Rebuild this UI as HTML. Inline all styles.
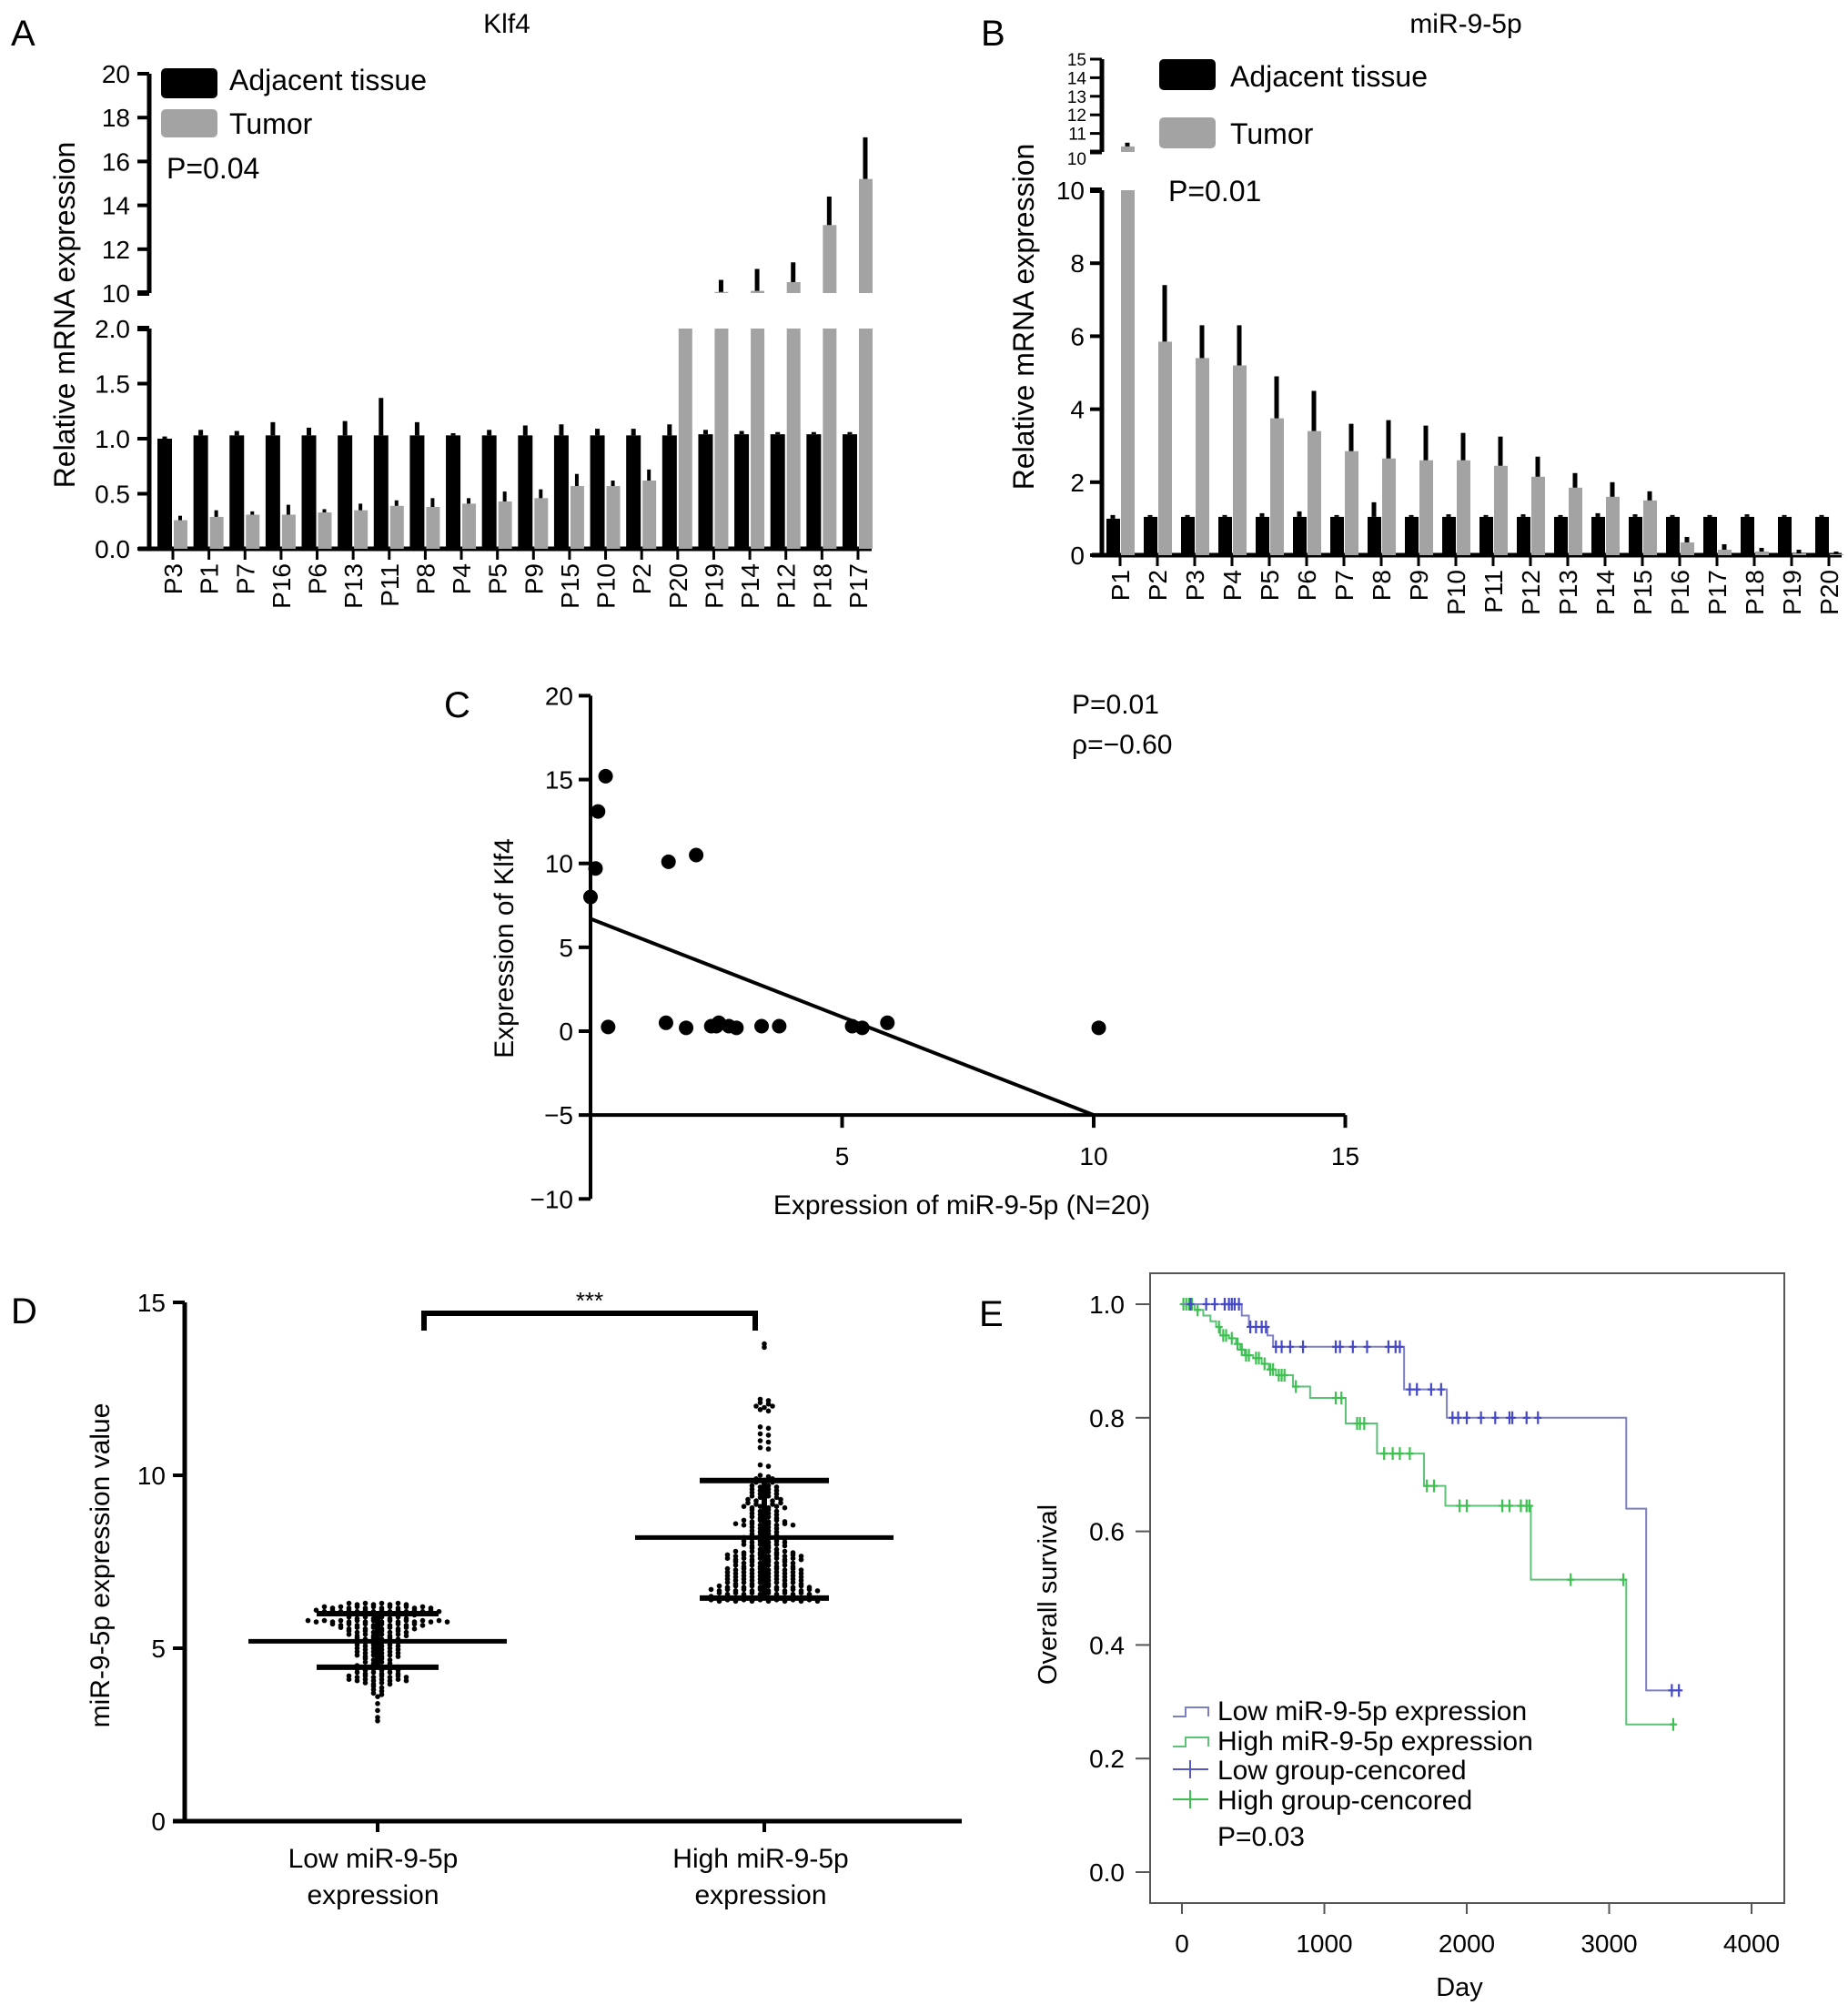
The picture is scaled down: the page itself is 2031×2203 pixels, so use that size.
<!DOCTYPE html>
<html><head><meta charset="utf-8"><style>
html,body{margin:0;padding:0;background:#fff}
svg{display:block;font-family:"Liberation Sans",Arial,sans-serif}
</style></head><body>
<svg id="fig" width="2031" height="2203" viewBox="0 0 2031 2203" xmlns="http://www.w3.org/2000/svg">
<rect width="2031" height="2203" fill="#fff"/>
<g id="pa">
<text x="12" y="50" font-size="40">A</text>
<text x="557" y="36" font-size="30" text-anchor="middle">Klf4</text>
<text transform="translate(82,346) rotate(-90)" font-size="32" text-anchor="middle">Relative mRNA expression</text>
<rect x="177" y="75" width="62" height="33" rx="5" fill="#000"/>
<text x="252" y="99" font-size="32">Adjacent tissue</text>
<rect x="177" y="120" width="62" height="31" rx="5" fill="#a3a3a3"/>
<text x="252" y="147" font-size="32">Tumor</text>
<text x="183" y="196" font-size="32">P=0.04</text>
</g>
<g id="pb">
<text x="1078" y="50" font-size="40">B</text>
<text x="1611" y="36" font-size="30" text-anchor="middle">miR-9-5p</text>
<text transform="translate(1136,348) rotate(-90)" font-size="32" text-anchor="middle">Relative mRNA expression</text>
<rect x="1274" y="65" width="62" height="34" rx="5" fill="#000"/>
<text x="1352" y="95" font-size="32">Adjacent tissue</text>
<rect x="1274" y="129" width="62" height="34" rx="5" fill="#a3a3a3"/>
<text x="1352" y="158" font-size="32">Tumor</text>
<text x="1284" y="221" font-size="32">P=0.01</text>
</g>
<g id="pc">
<text x="488" y="788" font-size="40">C</text>
<text x="1178" y="784" font-size="30">P=0.01</text>
<text x="1178" y="828" font-size="30">ρ=−0.60</text>
<text x="1057" y="1334" font-size="30" text-anchor="middle">Expression of miR-9-5p (N=20)</text>
<text transform="translate(564,1042) rotate(-90)" font-size="30" text-anchor="middle">Expression of Klf4</text>
</g>
<g id="pd">
<text x="12" y="1454" font-size="40">D</text>
<text transform="translate(120,1720) rotate(-90)" font-size="30" text-anchor="middle">miR-9-5p expression value</text>
<text x="410" y="2052" font-size="30" text-anchor="middle">Low miR-9-5p</text>
<text x="410" y="2092" font-size="30" text-anchor="middle">expression</text>
<text x="836" y="2052" font-size="30" text-anchor="middle">High miR-9-5p</text>
<text x="836" y="2092" font-size="30" text-anchor="middle">expression</text>
<path d="M466,1462 V1443 H830 V1462" fill="none" stroke="#000" stroke-width="6"/>
<text x="648" y="1438" font-size="26" text-anchor="middle">***</text>
</g>
<g id="pe">
<text x="1076" y="1457" font-size="40">E</text>
<rect x="1264" y="1399" width="697" height="692" fill="none" stroke="#555" stroke-width="2"/>
<text transform="translate(1161,1752) rotate(-90)" font-size="29" text-anchor="middle">Overall survival</text>
<text x="1604" y="2193" font-size="29" text-anchor="middle">Day</text>
<path d="M1289,1886 H1303 V1876 H1328 V1886" fill="none" stroke="#7d7fc6" stroke-width="2"/>
<text x="1338" y="1890" font-size="30">Low miR-9-5p expression</text>
<path d="M1289,1919 H1303 V1909 H1328 V1919" fill="none" stroke="#5cc277" stroke-width="2"/>
<text x="1338" y="1923" font-size="30">High miR-9-5p expression</text>
<path d="M1289,1944 H1328 M1308,1934 V1954" fill="none" stroke="#5458c8" stroke-width="2"/>
<text x="1338" y="1955" font-size="30">Low group-cencored</text>
<path d="M1289,1977 H1328 M1308,1967 V1987" fill="none" stroke="#3cc050" stroke-width="2"/>
<text x="1338" y="1988" font-size="30">High group-cencored</text>
<text x="1338" y="2028" font-size="30">P=0.03</text>
</g>
</svg>
<script>
// ---------- Panel A data ----------
const catsA = ['P3','P1','P7','P16','P6','P13','P11','P8','P4','P5','P9','P15','P10','P2','P20','P19','P14','P12','P18','P17'];
const adjA = [1.0,1.03,1.03,1.03,1.03,1.03,1.03,1.03,1.03,1.03,1.03,1.03,1.03,1.03,1.03,1.04,1.04,1.04,1.04,1.04];
const adjErrA = [1.02,1.08,1.07,1.15,1.1,1.16,1.37,1.15,1.05,1.08,1.12,1.13,1.09,1.09,1.13,1.08,1.07,1.06,1.06,1.06];
const tumA = [0.26,0.29,0.31,0.31,0.33,0.35,0.39,0.38,0.41,0.43,0.46,0.57,0.57,0.62,5,10.05,10.1,10.5,13.1,15.2];
const tumErrA = [0.3,0.35,0.34,0.4,0.36,0.41,0.44,0.46,0.46,0.52,0.54,0.68,0.62,0.72,5.5,10.6,11.1,11.4,14.4,17.1];
const ticksALow = ['0.0','0.5','1.0','1.5','2.0'];
const ticksAHigh = ['10','12','14','16','18','20'];
// ---------- Panel B data ----------
const catsB = ['P1','P2','P3','P4','P5','P6','P7','P8','P9','P10','P11','P12','P13','P14','P15','P16','P17','P18','P19','P20'];
const adjB = [1.0,1.05,1.05,1.05,1.05,1.05,1.05,1.05,1.05,1.05,1.05,1.05,1.05,1.05,1.05,1.05,1.05,1.05,1.05,1.05];
const adjErrB = [1.1,1.1,1.1,1.1,1.15,1.2,1.1,1.45,1.1,1.12,1.1,1.12,1.1,1.15,1.12,1.1,1.1,1.12,1.1,1.1];
const tumB = [10.3,5.85,5.4,5.2,3.75,3.4,2.85,2.65,2.6,2.6,2.45,2.15,1.85,1.6,1.5,0.35,0.15,0.1,0.05,0.03];
const tumErrB = [10.5,7.4,6.3,6.3,4.9,4.5,3.6,3.7,3.55,3.35,3.25,2.7,2.25,2.0,1.75,0.5,0.3,0.2,0.15,0.1];
const ticksBLow = ['0','2','4','6','8','10'];
const ticksBHigh = ['10','11','12','13','14','15'];
// ---------- Panel C data ----------
const mirC = [0.3,0.15,0.1,0.0,0.35,1.5,1.9,2.4,2.55,2.75,2.9,3.4,3.75,1.55,2.1,5.2,5.4,5.9,10.1,2.5];
const klfC = [15.2,13.1,9.7,8.0,0.25,0.5,0.2,0.3,0.5,0.3,0.2,0.3,0.3,10.1,10.5,0.3,0.2,0.5,0.2,0.3];
const fitC = [6.7,-1.17];
const ticksCY = [20,15,10,5,0,-5,-10];
const ticksCX = [5,10,15];
// ---------- Panel D data (value levels and dot counts) ----------
const lowVals = [6.3,6.2,6.1,6.0,5.9,5.8,5.7,5.6,5.5,5.4,5.3,5.2,5.1,5.0,4.9,4.8,4.7,4.6,4.5,4.4,4.3,4.2,4.1,4.0,3.9,3.8,3.7,3.6,3.4,3.2,3.0,2.9];
const lowCounts = [8,14,16,10,8,18,12,10,8,8,6,6,6,6,6,6,4,4,6,6,6,8,8,4,2,2,2,1,1,1,1,1];
const highVals = [13.8,13.7,12.2,12.1,12.0,11.9,11.4,11.2,11.0,10.8,10.3,10.0,9.9,9.8,9.7,9.6,9.5,9.4,9.3,9.2,9.1,9.0,8.9,8.8,8.7,8.6,8.5,8.4,8.3,8.2,8.1,8.0,7.9,7.8,7.7,7.6,7.5,7.4,7.3,7.2,7.1,7.0,6.9,6.8,6.7,6.6,6.5,6.4];
const highCounts = [1,1,2,2,3,2,2,2,2,2,2,2,3,3,4,4,4,4,5,5,6,4,4,4,6,8,4,4,4,6,6,6,4,8,10,10,8,8,10,10,10,10,10,12,14,12,14,14];
const statsLow = [5.2,4.45,6.0];
const statsHigh = [8.2,6.45,9.85];
const ticksD = [0,5,10,15];
// ---------- Panel E data ----------
const lowT = [0,420,470,600,640,1560,1860,3120,3260];
const lowS = [1,0.98,0.96,0.945,0.925,0.85,0.80,0.64,0.32];
const lowEnd = 3500;
const lowCens = [60,170,230,300,330,350,370,400,480,520,560,590,660,700,760,850,1080,1110,1200,1300,1450,1500,1530,1600,1650,1750,1820,1900,1940,2000,2100,2200,2300,2320,2420,2500,3440,3490];
const highT = [0,90,150,200,240,270,330,380,410,440,500,560,610,660,780,900,1150,1370,1700,1850,2450,3120];
const highS = [1,0.99,0.98,0.97,0.96,0.945,0.94,0.93,0.92,0.91,0.905,0.895,0.885,0.875,0.855,0.835,0.79,0.737,0.68,0.645,0.515,0.26];
const highEnd = 3450;
const highCens = [10,30,50,70,110,260,290,310,350,390,420,450,470,520,540,580,620,640,680,700,720,800,1080,1120,1230,1250,1280,1420,1480,1530,1600,1720,1770,1950,2000,2250,2300,2380,2420,2440,2730,3100,3450];
const ticksEY = ['0.0','0.2','0.4','0.6','0.8','1.0'];
const ticksEX = [0,1000,2000,3000,4000];

const NS='http://www.w3.org/2000/svg';
const svg=document.getElementById('fig');
function mk(tag,attrs,parent){const e=document.createElementNS(NS,tag);for(const k in attrs)e.setAttribute(k,attrs[k]);(parent||svg).appendChild(e);return e;}
function txt(s,attrs,parent){const e=mk('text',attrs,parent);e.textContent=s;return e;}

// ================= Panel A =================
(function(){
const g=document.getElementById('pa');
const ax=164, base=603;
const yLow=v=>base-v*121, yHigh=v=>322-(v-10)*24.1;
const cx=i=>190+i*39.63;
let e;
e=mk('line',{x1:ax,y1:361,x2:ax,y2:base,stroke:'#000','stroke-width':5},g);


e=mk('line',{x1:ax,y1:81,x2:ax,y2:322,stroke:'#000','stroke-width':5},g);


e=mk('line',{x1:152,y1:base,x2:958,y2:base,stroke:'#000','stroke-width':5},g);


ticksALow.forEach(t=>{const y=yLow(parseFloat(t));
 e=mk('line',{x1:151,y1:y,x2:ax,y2:y,stroke:'#000','stroke-width':t==='2.0'?6:4},g);
 
 
 e=txt(t,{x:143,y:y+10,'font-size':28,'text-anchor':'end'},g);
 
 });
ticksAHigh.forEach(t=>{const y=yHigh(parseFloat(t));
 e=mk('line',{x1:151,y1:y,x2:ax,y2:y,stroke:'#000','stroke-width':t==='10'?6:4},g);
 
 
 e=txt(t,{x:143,y:y+10,'font-size':28,'text-anchor':'end'},g);
 
 });
catsA.forEach((c,i)=>{const x=cx(i);
 e=mk('rect',{x:x-17,y:yLow(adjA[i]),width:16,height:base-yLow(adjA[i]),fill:'#000'},g);
 
 
 e=mk('line',{x1:x-9,y1:yLow(adjA[i]),x2:x-9,y2:yLow(adjErrA[i]),stroke:'#000','stroke-width':5},g);
 
 
 const v=tumA[i];
 e=mk('rect',{x:x+1,y:yLow(Math.min(v,2)),width:15,height:base-yLow(Math.min(v,2)),fill:'#a3a3a3'},g);
 
 
 if(v>10){
  e=mk('rect',{x:x+1,y:yHigh(v),width:15,height:yHigh(10)-yHigh(v),fill:'#a3a3a3'},g);
  
  
 }
 const er=tumErrA[i];
 if(v<2){
  e=mk('line',{x1:x+8,y1:yLow(v),x2:x+8,y2:yLow(er),stroke:'#000','stroke-width':4},g);
  
  
 } else if(er>10){
  e=mk('line',{x1:x+8,y1:yHigh(Math.max(v,10)),x2:x+8,y2:yHigh(er),stroke:'#000','stroke-width':5},g);
  
  
 }
 e=mk('line',{x1:x,y1:base,x2:x,y2:base+12,stroke:'#000','stroke-width':3},g);
 
 
 e=txt(c,{transform:`translate(${x+10},${base+16}) rotate(-90)`,'font-size':28,'text-anchor':'end'},g);
 
 
});
})();

// ================= Panel B =================
(function(){
const g=document.getElementById('pb');
const ax=1211, base=610;
const yLow=v=>base-v*40.1, yHigh=v=>167-(v-10)*20.4;
const cx=i=>1231+i*41.0;
let e;
e=mk('line',{x1:ax,y1:209,x2:ax,y2:base,stroke:'#000','stroke-width':5},g);


e=mk('line',{x1:ax,y1:65,x2:ax,y2:167,stroke:'#000','stroke-width':5},g);


e=mk('line',{x1:1200,y1:base,x2:2024,y2:base,stroke:'#000','stroke-width':5},g);


ticksBLow.forEach(t=>{const y=yLow(parseFloat(t));
 e=mk('line',{x1:1198,y1:y,x2:ax,y2:y,stroke:'#000','stroke-width':t==='10'?6:4},g);
 
 
 e=txt(t,{x:1192,y:y+10,'font-size':28,'text-anchor':'end'},g);
 
 });
ticksBHigh.forEach(t=>{const y=yHigh(parseFloat(t));
 e=mk('line',{x1:1198,y1:y,x2:ax,y2:y,stroke:'#000','stroke-width':t==='10'?5:3},g);
 
 
 e=txt(t,{x:1194,y:y+(t==='10'?14:7),'font-size':19,'text-anchor':'end'},g);
 
 });
catsB.forEach((c,i)=>{const x=cx(i);
 e=mk('rect',{x:x-15,y:yLow(adjB[i]),width:15,height:base-yLow(adjB[i]),fill:'#000'},g);
 
 
 e=mk('line',{x1:x-8,y1:yLow(adjB[i]),x2:x-8,y2:yLow(adjErrB[i]),stroke:'#000','stroke-width':5},g);
 
 
 const v=tumB[i];
 e=mk('rect',{x:x+1,y:yLow(Math.min(v,10)),width:15,height:base-yLow(Math.min(v,10)),fill:'#a3a3a3'},g);
 
 
 if(v>10){
  e=mk('rect',{x:x+1,y:yHigh(v),width:15,height:yHigh(10)-yHigh(v),fill:'#a3a3a3'},g);
  
  
  e=mk('line',{x1:x+8,y1:yHigh(v),x2:x+8,y2:yHigh(tumErrB[i]),stroke:'#000','stroke-width':5},g);
  
  
 } else {
  e=mk('line',{x1:x+8,y1:yLow(v),x2:x+8,y2:yLow(tumErrB[i]),stroke:'#000','stroke-width':5},g);
  
  
 }
 e=mk('line',{x1:x,y1:base,x2:x,y2:base+12,stroke:'#000','stroke-width':3},g);
 
 
 e=txt(c,{transform:`translate(${x+10},${base+16}) rotate(-90)`,'font-size':28,'text-anchor':'end'},g);
 
 
});
})();

// ================= Panel C =================
(function(){
const g=document.getElementById('pc');
const X=v=>649+v*55.3, Y=v=>1133-v*18.43;
let e;
e=mk('line',{x1:649,y1:Y(20),x2:649,y2:Y(-10),stroke:'#000','stroke-width':4},g);


e=mk('line',{x1:649,y1:Y(-5),x2:X(15),y2:Y(-5),stroke:'#000','stroke-width':4},g);


ticksCY.forEach(t=>{const y=Y(t);
 e=mk('line',{x1:636,y1:y,x2:649,y2:y,stroke:'#000','stroke-width':4},g);
 
 
 e=txt(t<0?'−'+(-t):String(t),{x:630,y:y+10,'font-size':28,'text-anchor':'end'},g);
 
 });
ticksCX.forEach(t=>{const x=X(t);
 e=mk('line',{x1:x,y1:Y(-5),x2:x,y2:Y(-5)+14,stroke:'#000','stroke-width':4},g);
 
 
 e=txt(String(t),{x:x,y:1280,'font-size':28,'text-anchor':'middle'},g);
 
 });
const x0=0, x1=(-5-fitC[0])/fitC[1];
e=mk('line',{x1:X(x0),y1:Y(fitC[0]+fitC[1]*x0),x2:X(x1),y2:Y(-5),stroke:'#000','stroke-width':4},g);


mirC.forEach((m,i)=>{
 e=mk('ellipse',{cx:X(m),cy:Y(klfC[i]),rx:8,ry:8,fill:'#000'},g);
 
 });
})();

// ================= Panel D =================
(function(){
const g=document.getElementById('pd');
const Y=v=>2001-v*38.0;
let e;
e=mk('line',{x1:203,y1:Y(15),x2:203,y2:2003,stroke:'#000','stroke-width':5},g);


e=mk('line',{x1:190,y1:2001,x2:1057,y2:2001,stroke:'#000','stroke-width':5},g);


ticksD.forEach(t=>{const y=Y(t);
 e=mk('line',{x1:190,y1:y,x2:203,y2:y,stroke:'#000','stroke-width':4},g);
 
 
 e=txt(String(t),{x:182,y:y+10,'font-size':28,'text-anchor':'end'},g);
 
 });
[415,840].forEach(x=>{
 e=mk('line',{x1:x,y1:2001,x2:x,y2:2013,stroke:'#000','stroke-width':4},g);
 
 });
function swarm(vals,counts,cx,name){
 vals.forEach((v,k)=>{const n=counts[k];
  for(let j=0;j<n;j++){
   e=mk('circle',{cx:cx+(j-(n-1)/2)*9,cy:Y(v)+(j%2)*1.5,r:2.8,fill:'#000'},g);
   
   }});
}
swarm(lowVals,lowCounts,415,'dot-low');
swarm(highVals,highCounts,840,'dot-high');
function stats(s,cx,hw,sw,name){
 e=mk('line',{x1:cx-hw,y1:Y(s[0]),x2:cx+hw,y2:Y(s[0]),stroke:'#000','stroke-width':5},g);
 
 
 e=mk('line',{x1:cx-sw,y1:Y(s[1]),x2:cx+sw,y2:Y(s[1]),stroke:'#000','stroke-width':6},g);
 
 
 e=mk('line',{x1:cx-sw,y1:Y(s[2]),x2:cx+sw,y2:Y(s[2]),stroke:'#000','stroke-width':6},g);
 
 
 e=mk('line',{x1:cx,y1:Y(s[1]),x2:cx,y2:Y(s[2]),stroke:'#000','stroke-width':6},g);
 
 
}
stats(statsLow,415,142,67,'low');
stats(statsHigh,840,142,71,'high');
})();

// ================= Panel E =================
(function(){
const g=document.getElementById('pe');
const X=d=>1299+d*0.1565, Y=s=>2057-s*624;
let e;
ticksEY.forEach(t=>{const y=Y(parseFloat(t));
 e=mk('line',{x1:1248,y1:y,x2:1264,y2:y,stroke:'#555','stroke-width':2},g);
 
 
 e=txt(t,{x:1236,y:y+10,'font-size':28,'text-anchor':'end'},g);
 
 });
ticksEX.forEach(t=>{const x=X(t);
 e=mk('line',{x1:x,y1:2091,x2:x,y2:2103,stroke:'#555','stroke-width':2},g);
 
 
 e=txt(String(t),{x:x,y:2145,'font-size':28,'text-anchor':'middle'},g);
 
 });
function km(T,S,end,cens,lc,cc,name){
 let d='M'+X(T[0])+','+Y(S[0]);
 for(let i=1;i<T.length;i++){d+=' H'+X(T[i])+' V'+Y(S[i]);}
 d+=' H'+X(end);
 e=mk('path',{d:d,fill:'none',stroke:lc,'stroke-width':2},g);
 
 
 cens.forEach(t=>{let s=S[0];for(let i=0;i<T.length;i++){if(T[i]<=t)s=S[i];}
  const x=X(t),y=Y(s);
  e=mk('path',{d:`M${x},${y-7} V${y+7} M${x-4},${y} H${x+4}`,fill:'none',stroke:cc,'stroke-width':2.2},g);
  
  });
}
km(highT,highS,highEnd,highCens,'#5cc277','#3cc050','high');
km(lowT,lowS,lowEnd,lowCens,'#7d7fc6','#4448c8','low');
})();
</script>
</body></html>
